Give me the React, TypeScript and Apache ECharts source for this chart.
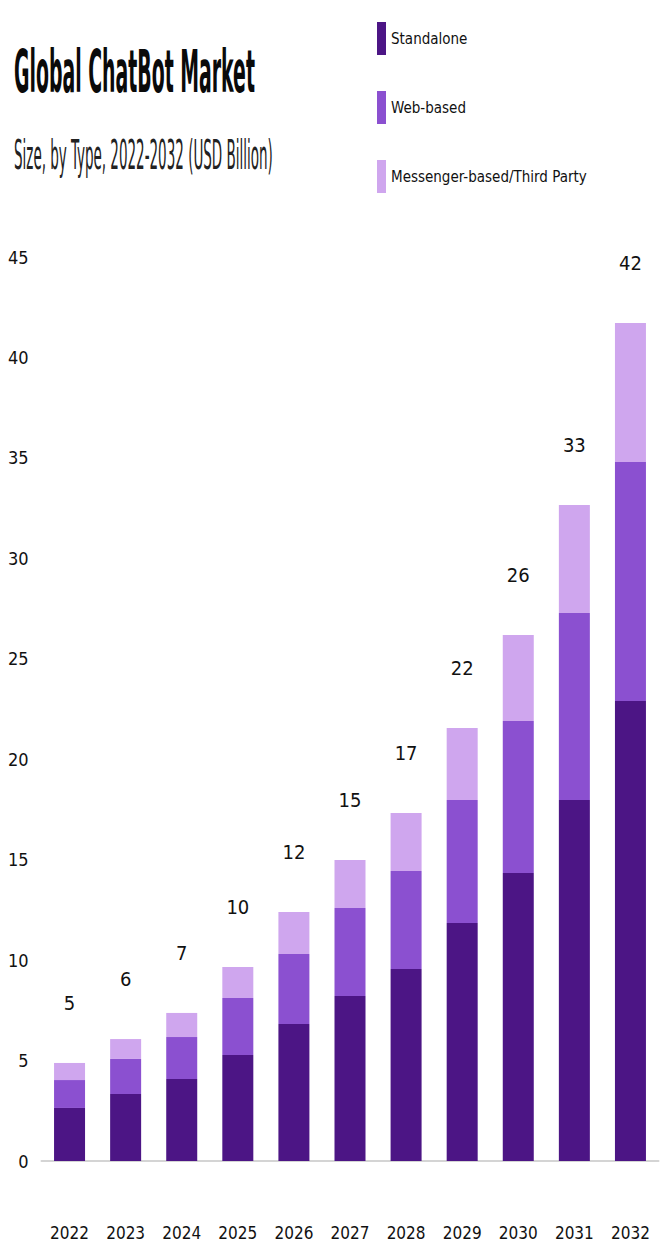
import React, { useEffect, useRef } from "react";
import * as echarts from "echarts";

const years = ["2022", "2023", "2024", "2025", "2026", "2027", "2028", "2029", "2030", "2031", "2032"];
const standalone = [2.64, 3.33, 4.08, 5.28, 6.82, 8.21, 9.56, 11.85, 14.34, 17.97, 22.9];
const webBased = [1.39, 1.75, 2.09, 2.83, 3.48, 4.38, 4.87, 6.12, 7.56, 9.31, 11.89];
const messenger = [0.85, 0.99, 1.2, 1.55, 2.09, 2.39, 2.89, 3.58, 4.28, 5.37, 6.92];
const totalLabels = ["5", "6", "7", "10", "12", "15", "17", "22", "26", "33", "42"];
const seriesNames = ["Standalone", "Web-based", "Messenger-based/Third Party"];
const colors = ["#4c1585", "#8b50d0", "#cfa6ee"];

const FONT = "'DejaVu Sans Condensed', 'Liberation Sans Narrow', sans-serif";

export default function App() {
  const ref = useRef<HTMLDivElement>(null);
  useEffect(() => {
    document.body.style.margin = "0";
    const chart = echarts.init(ref.current!, null, { renderer: "svg" });
    const mk = (name: string, data: number[], color: string, withLabel: boolean) => ({
      name,
      type: "bar",
      stack: "total",
      data,
      barWidth: 31,
      itemStyle: { color },
      label: withLabel
        ? {
            show: true,
            position: "top",
            distance: 50,
            fontFamily: FONT,
            fontSize: 20,
            color: "#111",
            formatter: (p: any) => totalLabels[p.dataIndex],
          }
        : { show: false },
    });
    chart.setOption({
      animation: false,
      backgroundColor: "#ffffff",
      textStyle: { fontFamily: FONT },
      graphic: [
        {
          type: "text",
          left: 14,
          top: 42,
          scaleY: 2.8,
          style: { text: "Global ChatBot Market", font: `bold 21px ${FONT}`, fill: "#0a0a0a" },
        },
        {
          type: "text",
          left: 14,
          top: 135,
          scaleY: 2.7,
          style: { text: "Size, by Type, 2022-2032 (USD Billion)", font: `15px ${FONT}`, fill: "#222" },
        },
      ],
      legend: {
        orient: "vertical",
        left: 372,
        top: 17,
        itemWidth: 9,
        itemHeight: 33,
        itemGap: 36,
        icon: "rect",
        data: seriesNames,
        textStyle: { fontFamily: FONT, fontSize: 15, color: "#111" },
      },
      grid: { left: 41.5, right: 5.5, top: 257, bottom: 94, containLabel: false },
      xAxis: {
        type: "category",
        data: years,
        axisLine: { show: true, lineStyle: { color: "#d4d4d4", width: 2 } },
        axisTick: { show: false },
        axisLabel: { interval: 0, fontFamily: FONT, fontSize: 17, color: "#111", margin: 63 },
      },
      yAxis: {
        type: "value",
        min: 0,
        max: 45,
        interval: 5,
        splitLine: { show: false },
        axisLine: { show: false },
        axisTick: { show: false },
        axisLabel: { fontFamily: FONT, fontSize: 18, color: "#111", margin: 13 },
      },
      series: [
        mk(seriesNames[0], standalone, colors[0], false),
        mk(seriesNames[1], webBased, colors[1], false),
        mk(seriesNames[2], messenger, colors[2], true),
      ],
    });
    return () => chart.dispose();
  }, []);
  return <div ref={ref} style={{ width: 664, height: 1255 }} />;
}
